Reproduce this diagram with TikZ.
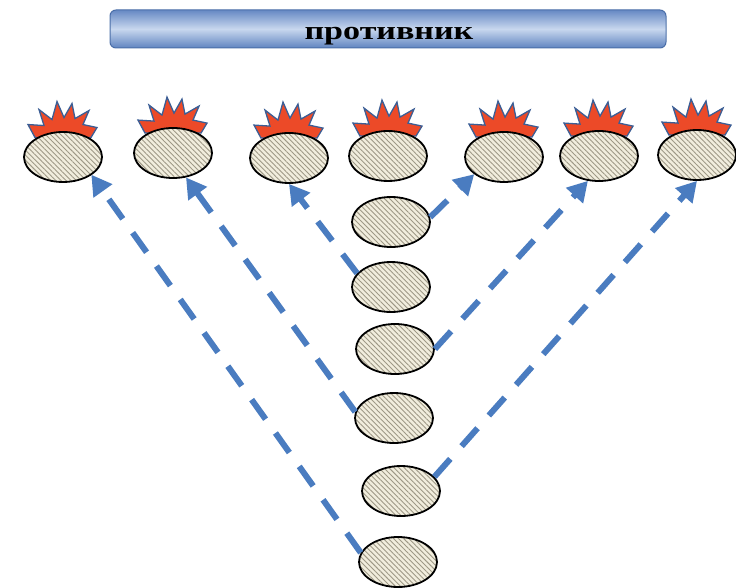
\documentclass[tikz,border=0pt]{standalone}
\usepackage{fontspec}
\setmainfont{Liberation Serif}
\newfontfamily\titlefont[FakeStretch=1.31]{Liberation Serif}
\usetikzlibrary{arrows.meta,shapes.geometric,patterns.meta,backgrounds}
\definecolor{arrowblue}{HTML}{4A7CC0}
\definecolor{beige}{HTML}{F1EDDD}
\definecolor{stripe}{HTML}{9E9886}
\definecolor{boomred}{HTML}{EC4A28}
\definecolor{boomblue}{HTML}{3B5E95}
\definecolor{bartop}{HTML}{6689C4}
\definecolor{barmid}{HTML}{C8D7EE}
\definecolor{barbot}{HTML}{5F84C0}
\definecolor{barline}{HTML}{4A6EA8}
\tikzset{
  blob/.style={ellipse, draw=black, line width=1.8pt, minimum width=78pt,
    minimum height=50pt, inner sep=0pt, preaction={fill=beige},
    pattern={Lines[angle=-45,distance=3.6pt,line width=0.9pt]}, pattern color=stripe},
  shot/.style={draw=arrowblue, line width=6pt, dash pattern=on 24pt off 17pt,
    -{Triangle[length=20pt,width=22pt]}},
  boom/.pic={\filldraw[fill=boomred, draw=boomblue, line width=1.3pt, line join=miter]
    (-28,6) -- (-35,-7) -- (-19,-6) -- (-24,-22) -- (-11,-12) -- (-6,-30) -- (1,-14)
    -- (9,-28) -- (12,-13) -- (26,-21) -- (20,-7) -- (34,-4) -- (28,6) -- cycle;}
}
\begin{document}
\begin{tikzpicture}[x=1pt,y=-1pt]
\useasboundingbox (0,0) rectangle (736,588);
\node[draw=barline, line width=1pt, rounded corners=6pt, top color=bartop,
  bottom color=barbot, middle color=barmid, minimum width=556pt,
  minimum height=38pt, inner sep=0pt] (title) at (388,29) {};
\node[anchor=base, inner sep=0pt] (titletext) at (389,40)
  {\titlefont\bfseries\fontsize{26}{26}\selectfont противник};
% top row
\node[blob] (t1) at (63,157) {};
\node[blob] (t2) at (173,153) {};
\node[blob] (t3) at (289,158) {};
\node[blob] (t4) at (388,156) {};
\node[blob] (t5) at (504,157) {};
\node[blob] (t6) at (599,156) {};
\node[blob] (t7) at (697,155) {};
% column
\node[blob] (c1) at (391,222) {};
\node[blob] (c2) at (391,287) {};
\node[blob] (c3) at (395,349) {};
\node[blob] (c4) at (394,418) {};
\node[blob] (c5) at (401,491) {};
\node[blob] (c6) at (398,562) {};
\begin{scope}[on background layer]
\foreach \n in {t1,t2,t3,t4,t5,t6,t7} \pic at (\n.north) {boom};
\end{scope}
\draw[shot] (c6.166) -- (t1.-32);
\draw[shot] (c4.171) -- (t2.-62);
\draw[shot] (c2.158) -- (t3.-90);
\draw[shot] (c1.7) -- (t5.-150);
\draw[shot] (c3.0) -- (t6.-114);
\draw[shot] (c5.23) -- (t7.-90);
\end{tikzpicture}
\end{document}
